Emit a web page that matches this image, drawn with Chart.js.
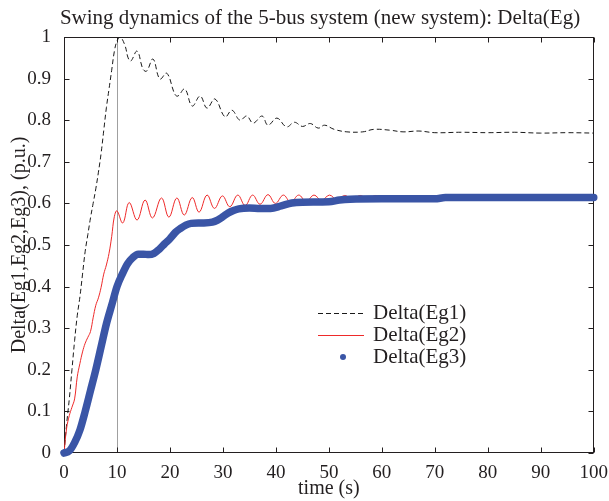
<!DOCTYPE html>
<html>
<head>
<meta charset="utf-8">
<script src="https://cdn.jsdelivr.net/npm/chart.js@4/dist/chart.umd.min.js"></script>
<style>
  html, body { margin: 0; padding: 0; background: #fff; }
  #wrap { width: 609px; height: 501px; }
</style>
</head>
<body>
<div id="wrap"><canvas id="swing_chart"></canvas></div>
<script>
const title_text = 'Swing dynamics of the 5-bus system (new system): Delta(Eg)';
const series_names = ['Delta(Eg1)', 'Delta(Eg2)', 'Delta(Eg3)'];
const x_title = 'time (s)';
const y_title = 'Delta(Eg1,Eg2,Eg3), (p.u.)';
const x_ticks = [0, 10, 20, 30, 40, 50, 60, 70, 80, 90, 100];
const y_ticks = [0, 0.1, 0.2, 0.3, 0.4, 0.5, 0.6, 0.7, 0.8, 0.9, 1];
const marker_time = 10;

// Delta(Eg1), black dashed
const t_eg1 = [0, 0.5, 1, 1.5, 2, 2.5, 3, 3.5, 4, 4.5, 5, 5.5, 6, 6.5, 7, 7.5, 8, 8.5, 9, 9.5,
  10, 10.6, 11.5, 12.1, 12.6, 13.8, 14.9, 15.6, 16.8, 18.1, 19.4, 20.9, 21.5, 22.8, 24.2, 25.7, 27, 28.5, 30.4, 31.7,
  33.2, 34.5, 35.7, 37.4, 38.5, 40.2, 42, 43.5, 45, 46.5, 48, 49.2, 51, 53.4, 56.4, 58.5, 61.5, 64, 67, 70,
  75, 80, 85, 90, 95, 100];
const eg1 = [0, 0.07, 0.13, 0.2, 0.27, 0.33, 0.375, 0.43, 0.485, 0.525, 0.565, 0.6, 0.635, 0.675, 0.72, 0.775, 0.83, 0.875, 0.92, 0.965,
  0.99, 1.0, 0.98, 0.95, 0.942, 0.966, 0.923, 0.918, 0.947, 0.899, 0.913, 0.863, 0.858, 0.875, 0.834, 0.858, 0.829, 0.851, 0.808, 0.824,
  0.80, 0.81, 0.793, 0.81, 0.788, 0.805, 0.784, 0.795, 0.785, 0.792, 0.781, 0.788, 0.778, 0.772, 0.772, 0.778, 0.776, 0.772, 0.774, 0.770,
  0.771, 0.770, 0.771, 0.769, 0.770, 0.769];

// Delta(Eg2), red
const t_eg2 = [0, 0.5, 1, 1.5, 2, 2.5, 3, 3.5, 4, 4.5, 5, 5.5, 6, 6.5, 7, 7.5, 8, 8.5, 9, 9.5,
  10, 11.1, 12.3, 13.8, 15.3, 16.7, 18.4, 19.8, 21.3, 22.7, 24.2, 25.5, 27, 28.4, 29.9, 31.3, 32.8, 34.2, 35.6, 37.0,
  38.5, 39.9, 41.4, 42.8, 44.3, 45.7, 47.2, 48.6, 50.1, 51.5, 53.0, 54.4, 55.9, 57.3, 58.8, 60.2, 61.7, 63.1, 64.6, 66,
  67.5, 68.9, 70.4, 71.8, 73.3, 80, 90, 100];
const eg2 = [0, 0.06, 0.09, 0.11, 0.13, 0.183, 0.215, 0.243, 0.264, 0.278, 0.292, 0.325, 0.355, 0.373, 0.398, 0.43, 0.452, 0.48, 0.52, 0.568,
  0.582, 0.553, 0.602, 0.56, 0.608, 0.565, 0.613, 0.567, 0.613, 0.572, 0.614, 0.579, 0.62, 0.588, 0.618, 0.592, 0.62, 0.595, 0.62, 0.598,
  0.621, 0.600, 0.62, 0.603, 0.62, 0.605, 0.62, 0.607, 0.62, 0.609, 0.619, 0.61, 0.619, 0.611, 0.619, 0.612, 0.618, 0.612, 0.618, 0.613,
  0.617, 0.613, 0.617, 0.614, 0.616, 0.615, 0.615, 0.615];

// Delta(Eg3), blue markers
const t_eg3 = [0, 1, 2, 3, 4, 5, 6, 7, 8, 9, 10, 11, 12, 13, 14, 15, 16, 17, 18, 19, 20, 21, 22, 23, 24,
  26, 28, 29, 30, 31, 32, 33, 35, 37, 39, 41, 43, 45, 50, 52, 54, 60, 70, 72, 100];
const eg3 = [0, 0.005, 0.025, 0.055, 0.1, 0.15, 0.2, 0.255, 0.31, 0.355, 0.4, 0.43, 0.455, 0.47, 0.478, 0.478, 0.477, 0.48, 0.49, 0.503,
  0.515, 0.53, 0.54, 0.548, 0.552, 0.553, 0.555, 0.56, 0.568, 0.577, 0.583, 0.587, 0.589, 0.588, 0.588, 0.594, 0.601, 0.603,
  0.604, 0.608, 0.61, 0.611, 0.611, 0.614, 0.614];

const text_color = '#231f20';
const serif = 'Liberation Serif';

function toPoints(times, values) {
  return times.map((t, i) => ({ x: t, y: values[i] }));
}

// inward ticks, box frame, the t = 10 marker, title and legend
const frame_plugin = {
  id: 'frame_plugin',
  beforeDatasetsDraw(chart) {
    const { ctx, chartArea: a, scales: { x, y } } = chart;
    const l = Math.round(a.left) + 0.5, r = Math.round(a.right) - 0.5;
    const t = Math.round(a.top) + 0.5, b = Math.round(a.bottom) - 0.5;
    ctx.save();
    ctx.strokeStyle = '#a0a0a0';
    ctx.lineWidth = 1;
    const mx = Math.round(x.getPixelForValue(marker_time)) + 0.5;
    ctx.beginPath();
    ctx.moveTo(mx, t);
    ctx.lineTo(mx, b);
    ctx.stroke();

    ctx.strokeStyle = '#231f20';
    ctx.strokeRect(l, t, r - l, b - t);
    const len = 5;
    ctx.beginPath();
    x_ticks.forEach(v => {
      const px = Math.round(x.getPixelForValue(v)) + 0.5;
      ctx.moveTo(px, b); ctx.lineTo(px, b - len);
      ctx.moveTo(px, t); ctx.lineTo(px, t + len);
    });
    y_ticks.forEach(v => {
      const py = Math.round(y.getPixelForValue(v)) + 0.5;
      ctx.moveTo(l, py); ctx.lineTo(l + len, py);
      ctx.moveTo(r, py); ctx.lineTo(r - len, py);
    });
    ctx.stroke();
    ctx.restore();
  },
  afterDraw(chart) {
    const { ctx, chartArea: a } = chart;
    const ds = chart.data.datasets;
    ctx.save();
    ctx.fillStyle = text_color;
    ctx.textBaseline = 'middle';
    ctx.textAlign = 'center';
    ctx.font = '21px "' + serif + '"';
    ctx.fillText(title_text, 320, 18);

    // legend inside the plot
    const lx = a.left + 254, ly = a.top + 276, gap = 22;
    ctx.textAlign = 'left';
    ctx.font = '21px "' + serif + '"';
    ds.forEach((d, i) => {
      const yy = ly + i * gap;
      if (i < 2) {
        ctx.save();
        ctx.strokeStyle = d.borderColor;
        ctx.lineWidth = 1;
        ctx.setLineDash(d.borderDash || []);
        ctx.beginPath();
        ctx.moveTo(lx, yy + 0.5);
        ctx.lineTo(lx + 46, yy + 0.5);
        ctx.stroke();
        ctx.restore();
      } else {
        ctx.beginPath();
        ctx.fillStyle = d.borderColor;
        ctx.arc(lx + 25, yy, 3, 0, Math.PI * 2);
        ctx.fill();
        ctx.fillStyle = text_color;
      }
      ctx.fillText(series_names[i], lx + 55, yy);
    });
    ctx.restore();
  }
};

const chart_setup = {
  type: 'line',
  data: {
    datasets: [
      {
        label: series_names[0],
        data: toPoints(t_eg1, eg1),
        borderColor: '#1a1a1a',
        borderWidth: 1,
        borderDash: [5, 3],
        pointRadius: 0,
        tension: 0.4,
        order: 2,
      },
      {
        label: series_names[1],
        data: toPoints(t_eg2, eg2),
        borderColor: '#ee2a2a',
        borderWidth: 1,
        pointRadius: 0,
        tension: 0.4,
        order: 1,
      },
      {
        label: series_names[2],
        data: toPoints(t_eg3, eg3),
        borderColor: '#3a55a6',
        borderWidth: 7.5,
        borderCapStyle: 'round',
        borderJoinStyle: 'round',
        pointRadius: 0,
        cubicInterpolationMode: 'monotone',
        clip: false,
        order: 0,
      }
    ]
  },
  options: {
    animation: false,
    responsive: true,
    maintainAspectRatio: false,
    layout: {
      padding: { top: 37, right: 15, bottom: 0, left: 0 }
    },
    plugins: {
      legend: { display: false },
      title: { display: false },
      tooltip: { enabled: false }
    },
    scales: {
      x: {
        type: 'linear',
        min: 0,
        max: 100,
        grid: { display: false },
        border: { display: false },
        afterBuildTicks: s => { s.ticks = x_ticks.map(v => ({ value: v })); },
        afterFit: s => { s.height = 48; },
        ticks: {
          padding: 1,
          autoSkip: false,
          maxRotation: 0,
          color: text_color,
          font: { family: serif, size: 19 }
        },
        title: {
          display: true,
          text: x_title,
          color: text_color,
          font: { family: serif, size: 20 },
          padding: { top: 0, bottom: 0 }
        }
      },
      y: {
        min: 0,
        max: 1,
        grid: { display: false },
        border: { display: false },
        afterBuildTicks: s => { s.ticks = y_ticks.map(v => ({ value: v })); },
        afterFit: s => { s.width = 64; },
        ticks: {
          padding: 5,
          color: text_color,
          font: { family: serif, size: 19 },
          callback: v => String(+v.toFixed(1))
        },
        title: {
          display: true,
          text: y_title,
          color: text_color,
          font: { family: serif, size: 20 },
          padding: { top: 8, bottom: 0 }
        }
      }
    }
  },
  plugins: [frame_plugin]
};

new Chart(document.getElementById('swing_chart'), chart_setup);
</script>
</body>
</html>
